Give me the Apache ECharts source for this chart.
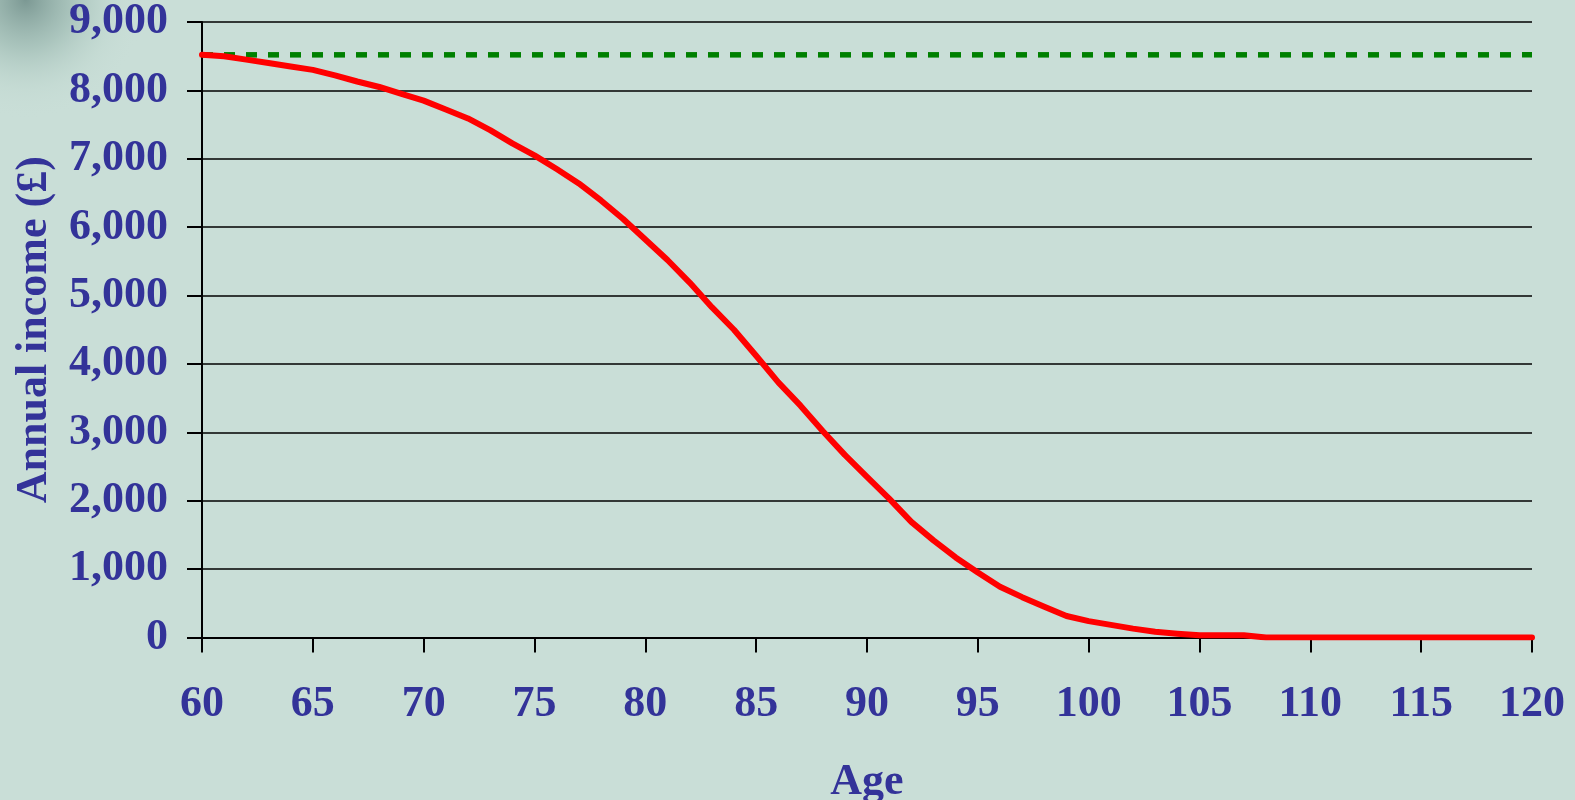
<!DOCTYPE html>
<html>
<head>
<meta charset="utf-8">
<script src="https://cdn.jsdelivr.net/npm/echarts@6/dist/echarts.min.js"></script>
<style>
html,body{margin:0;padding:0;background:#c9ded7;}
#chart{width:1575px;height:800px;}
</style>
</head>
<body>
<div id="chart"></div>
<script>
// Ages (x) and annual income (£) for the declining annuity line
const ages = [60,61,62,63,64,65,66,67,68,69,70,71,72,73,74,75,76,77,78,79,80,81,82,83,84,85,86,87,88,89,90,
  91,92,93,94,95,96,97,98,99,100,101,102,103,104,105,106,107,108,109,110,111,112,113,114,115,116,117,118,119,120];
const income = [8520,8500,8450,8400,8350,8300,8220,8130,8050,7950,7850,7720,7590,7420,7225,7050,6850,6640,6390,6120,5820,
  5520,5190,4830,4500,4120,3730,3390,3020,2670,2350,2030,1690,1420,1170,950,743,590,450,314,240,
  185,130,85,55,32,32,32,0,0,0,0,0,0,0,0,0,0,0,0,0];
// Level (constant) income line
const levelAges = [60, 120];
const levelIncome = [8520, 8520];
const yTicks = [0,1000,2000,3000,4000,5000,6000,7000,8000,9000];
const xTicks = [60,65,70,75,80,85,90,95,100,105,110,115,120];

const chart = echarts.init(document.getElementById('chart'), null, {renderer:'canvas'});
const txt = '#333399';
const font = '"Liberation Serif", "Times New Roman", serif';
const fs = 44;
chart.setOption({
  backgroundColor: '#c9ded7',
  animation: false,
  graphic: [{
    type: 'rect', left: 0, top: 0, z: -10,
    shape: {x:0, y:0, width: 320, height: 240},
    style: {
      fill: new echarts.graphic.RadialGradient(0.08, 0.0, 0.5, [
        {offset: 0, color: 'rgba(115,145,140,0.9)'},
        {offset: 0.4, color: 'rgba(150,180,172,0.6)'},
        {offset: 0.75, color: 'rgba(185,210,202,0.25)'},
        {offset: 1, color: 'rgba(201,222,215,0)'}
      ])
    }
  }],
  grid: {left: 202, right: 43, top: 22, bottom: 162.5, containLabel: false, outerBoundsMode: 'none'},
  xAxis: {
    type: 'value', min: xTicks[0], max: xTicks[xTicks.length-1], interval: 5,
    name: 'Age', nameLocation: 'middle', nameGap: 123,
    nameTextStyle: {color: txt, fontFamily: font, fontWeight: 'bold', fontSize: fs},
    axisLine: {show: true, onZero: false, lineStyle: {color: '#000', width: 2}},
    axisTick: {show: true, inside: false, length: 15, lineStyle: {color: '#000', width: 2}},
    axisLabel: {color: txt, fontFamily: font, fontWeight: 'bold', fontSize: fs, margin: 45},
    splitLine: {show: false}
  },
  yAxis: {
    type: 'value', min: yTicks[0], max: yTicks[yTicks.length-1], interval: 1000,
    name: 'Annual income (£)', nameLocation: 'middle', nameGap: 145,
    nameTextStyle: {color: txt, fontFamily: font, fontWeight: 'bold', fontSize: fs},
    axisLine: {show: true, lineStyle: {color: '#000', width: 2}},
    axisTick: {show: true, inside: false, length: 15, lineStyle: {color: '#000', width: 2}},
    axisLabel: {color: txt, fontFamily: font, fontWeight: 'bold', fontSize: fs, margin: 34,
      formatter: v => v.toLocaleString('en-GB')},
    splitLine: {show: true, lineStyle: {color: '#000', width: 1.6}}
  },
  series: [{
    type: 'line', data: levelAges.map((a,i)=>[a, levelIncome[i]]),
    symbol: 'none', z: 2,
    lineStyle: {color: '#008000', width: 5.5, type: [11, 11]}
  },{
    type: 'line', data: ages.map((a,i)=>[a, income[i]]),
    symbol: 'none', z: 3,
    lineStyle: {color: '#ff0000', width: 6, cap: 'round', join: 'round'}
  }]
});
</script>
</body>
</html>
